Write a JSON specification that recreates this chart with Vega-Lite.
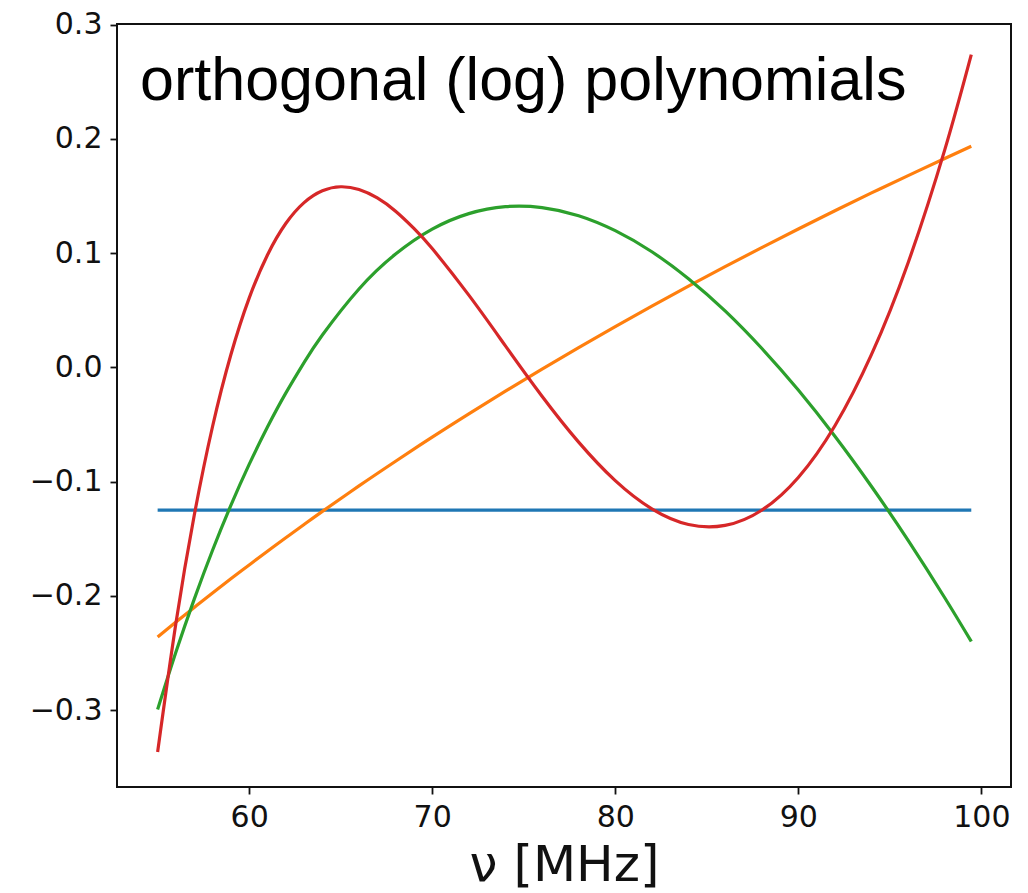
{
  "$schema": "https://vega.github.io/schema/vega-lite/v6.json",
  "width": 894,
  "height": 763,
  "autosize": {"type": "none"},
  "padding": {"left": 117, "top": 24, "right": 17, "bottom": 106},
  "background": "white",
  "config": {
    "view": {"stroke": "#111111", "strokeWidth": 2},
    "axis": {
      "grid": false,
      "domain": false,
      "tickColor": "#111111",
      "tickWidth": 1.8,
      "tickSize": 7,
      "labelFont": "DejaVu Sans",
      "labelFontSize": 30,
      "labelColor": "#111111",
      "labelPadding": 8
    }
  },
  "datasets": {
    "curves": [
      {"nu": 55, "degree": 0, "value": -0.125},
      {"nu": 60, "degree": 0, "value": -0.125},
      {"nu": 70, "degree": 0, "value": -0.125},
      {"nu": 80, "degree": 0, "value": -0.125},
      {"nu": 90, "degree": 0, "value": -0.125},
      {"nu": 99.45, "degree": 0, "value": -0.125},

      {"nu": 55, "degree": 1, "value": -0.2361},
      {"nu": 56, "degree": 1, "value": -0.2230},
      {"nu": 57, "degree": 1, "value": -0.2102},
      {"nu": 58, "degree": 1, "value": -0.1975},
      {"nu": 59, "degree": 1, "value": -0.1851},
      {"nu": 60, "degree": 1, "value": -0.1730},
      {"nu": 61, "degree": 1, "value": -0.1610},
      {"nu": 62, "degree": 1, "value": -0.1492},
      {"nu": 63, "degree": 1, "value": -0.1376},
      {"nu": 64, "degree": 1, "value": -0.1261},
      {"nu": 66, "degree": 1, "value": -0.1038},
      {"nu": 68, "degree": 1, "value": -0.0822},
      {"nu": 70, "degree": 1, "value": -0.0611},
      {"nu": 72, "degree": 1, "value": -0.0407},
      {"nu": 74, "degree": 1, "value": -0.0208},
      {"nu": 76, "degree": 1, "value": -0.0015},
      {"nu": 78, "degree": 1, "value": 0.0173},
      {"nu": 80, "degree": 1, "value": 0.0357},
      {"nu": 82, "degree": 1, "value": 0.0536},
      {"nu": 84, "degree": 1, "value": 0.0711},
      {"nu": 86, "degree": 1, "value": 0.0882},
      {"nu": 88, "degree": 1, "value": 0.1048},
      {"nu": 90, "degree": 1, "value": 0.1211},
      {"nu": 92, "degree": 1, "value": 0.1371},
      {"nu": 94, "degree": 1, "value": 0.1527},
      {"nu": 96, "degree": 1, "value": 0.1679},
      {"nu": 98, "degree": 1, "value": 0.1829},
      {"nu": 99.45, "degree": 1, "value": 0.1936},

      {"nu": 55, "degree": 2, "value": -0.2995},
      {"nu": 56, "degree": 2, "value": -0.2493},
      {"nu": 57, "degree": 2, "value": -0.2029},
      {"nu": 58, "degree": 2, "value": -0.1601},
      {"nu": 59, "degree": 2, "value": -0.1209},
      {"nu": 60, "degree": 2, "value": -0.0850},
      {"nu": 61, "degree": 2, "value": -0.0523},
      {"nu": 62, "degree": 2, "value": -0.0226},
      {"nu": 63, "degree": 2, "value": 0.0042},
      {"nu": 64, "degree": 2, "value": 0.0283},
      {"nu": 66, "degree": 2, "value": 0.0686},
      {"nu": 68, "degree": 2, "value": 0.0992},
      {"nu": 70, "degree": 2, "value": 0.1210},
      {"nu": 72, "degree": 2, "value": 0.1346},
      {"nu": 74, "degree": 2, "value": 0.1407},
      {"nu": 76, "degree": 2, "value": 0.1399},
      {"nu": 78, "degree": 2, "value": 0.1328},
      {"nu": 80, "degree": 2, "value": 0.1197},
      {"nu": 82, "degree": 2, "value": 0.1012},
      {"nu": 84, "degree": 2, "value": 0.0776},
      {"nu": 86, "degree": 2, "value": 0.0494},
      {"nu": 88, "degree": 2, "value": 0.0167},
      {"nu": 90, "degree": 2, "value": -0.0199},
      {"nu": 92, "degree": 2, "value": -0.0603},
      {"nu": 94, "degree": 2, "value": -0.1043},
      {"nu": 96, "degree": 2, "value": -0.1515},
      {"nu": 98, "degree": 2, "value": -0.2017},
      {"nu": 99.45, "degree": 2, "value": -0.2400},

      {"nu": 55, "degree": 3, "value": -0.3367},
      {"nu": 56, "degree": 3, "value": -0.2238},
      {"nu": 57, "degree": 3, "value": -0.1295},
      {"nu": 58, "degree": 3, "value": -0.0518},
      {"nu": 59, "degree": 3, "value": 0.0110},
      {"nu": 60, "degree": 3, "value": 0.0606},
      {"nu": 61, "degree": 3, "value": 0.0984},
      {"nu": 62, "degree": 3, "value": 0.1259},
      {"nu": 63, "degree": 3, "value": 0.1442},
      {"nu": 64, "degree": 3, "value": 0.1546},
      {"nu": 65, "degree": 3, "value": 0.1581},
      {"nu": 66, "degree": 3, "value": 0.1557},
      {"nu": 67, "degree": 3, "value": 0.1483},
      {"nu": 68, "degree": 3, "value": 0.1367},
      {"nu": 69, "degree": 3, "value": 0.1217},
      {"nu": 70, "degree": 3, "value": 0.1040},
      {"nu": 72, "degree": 3, "value": 0.0632},
      {"nu": 74, "degree": 3, "value": 0.0188},
      {"nu": 76, "degree": 3, "value": -0.0253},
      {"nu": 78, "degree": 3, "value": -0.0655},
      {"nu": 80, "degree": 3, "value": -0.0992},
      {"nu": 82, "degree": 3, "value": -0.1239},
      {"nu": 84, "degree": 3, "value": -0.1376},
      {"nu": 86, "degree": 3, "value": -0.1384},
      {"nu": 88, "degree": 3, "value": -0.1251},
      {"nu": 90, "degree": 3, "value": -0.0964},
      {"nu": 92, "degree": 3, "value": -0.0511},
      {"nu": 94, "degree": 3, "value": 0.0113},
      {"nu": 96, "degree": 3, "value": 0.0916},
      {"nu": 98, "degree": 3, "value": 0.1904},
      {"nu": 99.45, "degree": 3, "value": 0.2738}
    ]
  },
  "layer": [
    {
      "data": {"name": "curves"},
      "mark": {"type": "line", "strokeWidth": 3.2, "interpolate": "natural", "clip": true},
      "encoding": {
        "x": {
          "field": "nu",
          "type": "quantitative",
          "scale": {"domain": [52.78, 101.62], "nice": false, "zero": false},
          "axis": {
            "values": [60, 70, 80, 90, 100],
            "format": "d",
            "title": "ν [MHz]",
            "titleFont": "DejaVu Sans",
            "titleFontSize": 50,
            "titleFontWeight": "normal",
            "titleColor": "#111111",
            "titlePadding": 8
          }
        },
        "y": {
          "field": "value",
          "type": "quantitative",
          "scale": {"domain": [-0.3674, 0.3006], "nice": false, "zero": false},
          "axis": {
            "values": [-0.3, -0.2, -0.1, 0, 0.1, 0.2, 0.3],
            "format": ".1f",
            "title": null
          }
        },
        "color": {
          "field": "degree",
          "type": "nominal",
          "scale": {"domain": [0, 1, 2, 3], "range": ["#1f77b4", "#ff7f0e", "#2ca02c", "#d62728"]},
          "legend": null
        }
      }
    },
    {
      "data": {"values": [{}]},
      "mark": {
        "type": "text",
        "align": "left",
        "baseline": "alphabetic",
        "font": "Liberation Sans",
        "fontSize": 61,
        "color": "#000000"
      },
      "encoding": {
        "x": {"datum": 54.04},
        "y": {"datum": 0.234},
        "text": {"value": "orthogonal (log) polynomials"}
      }
    }
  ]
}
